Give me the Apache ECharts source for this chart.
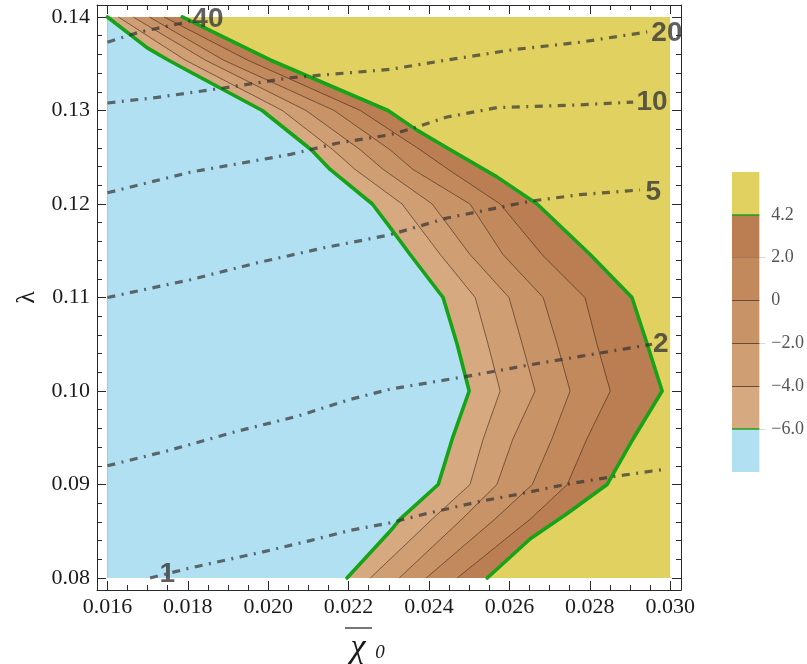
<!DOCTYPE html>
<html>
<head>
<meta charset="utf-8">
<script src="https://cdn.jsdelivr.net/npm/echarts@6/dist/echarts.min.js"></script>
<style>
  html, body { margin: 0; padding: 0; background: #fff; }
  #chart { width: 807px; height: 664px; }
</style>
</head>
<body>
<div id="chart"></div>
<script>
// axis ticks
const xTicks = [0.016, 0.018, 0.020, 0.022, 0.024, 0.026, 0.028, 0.030]
const xTickLabels = ['0.016', '0.018', '0.020', '0.022', '0.024', '0.026', '0.028', '0.030']
const yTicks = [0.08, 0.09, 0.10, 0.11, 0.12, 0.13, 0.14]
const yTickLabels = ['0.08', '0.09', '0.10', '0.11', '0.12', '0.13', '0.14']
const xRange = [0.016, 0.030]
const yRange = [0.08, 0.14]

// colour bar: levels and band colours (bottom to top)
const levelNames = ['−6.0', '−4.0', '−2.0', '0', '2.0', '4.2']
const bandColors = ['#b1e0f3', '#d6a981', '#cf9e73', '#c89367', '#c2895d', '#bb7d52', '#e0d160']

// filled contour boundaries, traced top to bottom
const contourM6 = [[0.01600, 0.1400], [0.01699, 0.1367], [0.01751, 0.1354], [0.01798, 0.1343], [0.01985, 0.1300], [0.02107, 0.1258], [0.02154, 0.1237], [0.02259, 0.1200], [0.02298, 0.1178], [0.02353, 0.1146], [0.02435, 0.1100], [0.02470, 0.1050], [0.02500, 0.1000], [0.02458, 0.0949], [0.02423, 0.0900], [0.02328, 0.0863], [0.02303, 0.0850], [0.02271, 0.0835], [0.02196, 0.0800]]
const contourM4 = [[0.01627, 0.1400], [0.01793, 0.1354], [0.02035, 0.1300], [0.02161, 0.1258], [0.02216, 0.1237], [0.02333, 0.1200], [0.02428, 0.1146], [0.02515, 0.1100], [0.02547, 0.1050], [0.02577, 0.1000], [0.02535, 0.0949], [0.02502, 0.0900], [0.02408, 0.0863], [0.02254, 0.0800]]
const contourM2 = [[0.01664, 0.1400], [0.01843, 0.1354], [0.02094, 0.1300], [0.02229, 0.1258], [0.02286, 0.1237], [0.02408, 0.1200], [0.02502, 0.1146], [0.02599, 0.1100], [0.02632, 0.1050], [0.02664, 0.1000], [0.02609, 0.0949], [0.02569, 0.0900], [0.02482, 0.0863], [0.02326, 0.0800]]
const contour0 = [[0.01704, 0.1400], [0.01888, 0.1354], [0.02164, 0.1300], [0.02303, 0.1258], [0.02360, 0.1237], [0.02502, 0.1200], [0.02584, 0.1146], [0.02684, 0.1100], [0.02719, 0.1050], [0.02751, 0.1000], [0.02706, 0.0949], [0.02657, 0.0900], [0.02564, 0.0863], [0.02393, 0.0800]]
const contour2 = [[0.01741, 0.1400], [0.01948, 0.1354], [0.02229, 0.1300], [0.02378, 0.1258], [0.02448, 0.1237], [0.02577, 0.1200], [0.02681, 0.1146], [0.02788, 0.1100], [0.02818, 0.1050], [0.02851, 0.1000], [0.02793, 0.0949], [0.02744, 0.0900], [0.02652, 0.0863], [0.02470, 0.0800]]
const contour42 = [[0.01786, 0.1400], [0.02005, 0.1354], [0.02298, 0.1300], [0.02370, 0.1279], [0.02453, 0.1258], [0.02569, 0.1229], [0.02669, 0.1200], [0.02801, 0.1146], [0.02905, 0.1100], [0.02943, 0.1050], [0.02980, 0.1000], [0.02908, 0.0949], [0.02843, 0.0900], [0.02744, 0.0869], [0.02652, 0.0842], [0.02545, 0.0800]]

// dash-dot overlay contours
const level1 = [[0.01706, 0.0800], [0.01798, 0.0810], [0.01987, 0.0828], [0.02104, 0.0840], [0.02204, 0.0851], [0.02303, 0.0859], [0.02395, 0.0869], [0.02527, 0.0882], [0.02627, 0.0890], [0.02739, 0.0900], [0.02851, 0.0908], [0.02982, 0.0916]]
const level2 = [[0.01600, 0.0920], [0.01749, 0.0936], [0.01923, 0.0957], [0.02072, 0.0973], [0.02204, 0.0991], [0.02303, 0.1002], [0.02485, 0.1015], [0.02652, 0.1028], [0.02776, 0.1037], [0.02955, 0.1050]]
const level5 = [[0.01600, 0.1100], [0.01806, 0.1119], [0.01972, 0.1137], [0.02137, 0.1153], [0.02303, 0.1167], [0.02445, 0.1185], [0.02652, 0.1203], [0.02776, 0.1210], [0.02925, 0.1215]]
const level10 = [[0.01600, 0.1212], [0.01806, 0.1234], [0.02055, 0.1253], [0.02171, 0.1265], [0.02303, 0.1274], [0.02360, 0.1281], [0.02445, 0.1293], [0.02569, 0.1303], [0.02776, 0.1306], [0.02908, 0.1309]]
const level20 = [[0.01600, 0.1308], [0.01724, 0.1314], [0.01888, 0.1324], [0.02055, 0.1335], [0.02303, 0.1344], [0.02445, 0.1354], [0.02609, 0.1365], [0.02776, 0.1373], [0.02943, 0.1384]]
const level40 = [[0.01600, 0.1373], [0.01681, 0.1384], [0.01781, 0.1393], [0.01818, 0.1397]]
const contourLabels = [[0.01850, 0.1398, '40'], [0.02992, 0.1383, '20'], [0.02955, 0.1309, '10'], [0.02958, 0.1212, '5'], [0.02977, 0.1050, '2'], [0.01749, 0.0804, '1']]

const contours = [contourM6, contourM4, contourM2, contour0, contour2, contour42]
const levels = [level1, level2, level5, level10, level20, level40]

// regions painted back to front: whole box, then "left of" each contour
const regions = [[[xRange[0], yRange[1]], [xRange[1], yRange[1]], [xRange[1], yRange[0]], [xRange[0], yRange[0]]]]
const regionColors = [bandColors[6]]
for (let i = contours.length - 1; i >= 0; i--) {
  regions.push(contours[i].concat([[xRange[0], yRange[0]], [xRange[0], yRange[1]]]))
  regionColors.push(bandColors[i])
}

const xMinor = []
for (let k = 0; k <= 28; k++) xMinor.push(+(0.016 + k * 0.0005).toFixed(5))
const yMinor = []
for (let k = 0; k <= 30; k++) yMinor.push(+(0.08 + k * 0.002).toFixed(4))

const X_MIN = 0.01574, X_MAX = 0.03027
const Y_MIN = 0.07872, Y_MAX = 0.14128
const frame = { color: '#2a2a2a', width: 1 }
const tickStyle = { color: '#2a2a2a', width: 1 }
const serif = 'Liberation Serif'

function pick(ticks, labels) {
  return (v) => {
    const i = ticks.findIndex(t => Math.abs(t - v) < 1e-7)
    return i < 0 ? '' : labels[i]
  }
}

function frameAxis(pos, min, max, major, extra) {
  return Object.assign({
    type: 'value', min, max, position: pos,
    axisLine: { show: true, onZero: false, lineStyle: frame },
    axisTick: { show: true, inside: true, length: 9, customValues: major, lineStyle: tickStyle },
    axisLabel: { show: false },
    splitLine: { show: false }
  }, extra)
}

function minorAxis(grid, pos, min, max, minor) {
  return {
    gridIndex: grid, type: 'value', min, max, position: pos,
    axisLine: { show: false },
    axisTick: { show: true, inside: true, length: 5, customValues: minor, lineStyle: tickStyle },
    axisLabel: { show: false },
    splitLine: { show: false }
  }
}

const chart = echarts.init(document.getElementById('chart'))

const series = []
series.push({
  type: 'custom',
  silent: true,
  z: 1,
  clip: false,
  data: regions.map((r, i) => [i]),
  renderItem: (params, api) => {
    const idx = api.value(0)
    return {
      type: 'polygon',
      shape: { points: regions[idx].map(p => api.coord(p)) },
      style: { fill: regionColors[idx], stroke: null }
    }
  }
})

contours.forEach((c, i) => {
  const edge = i === 0 || i === contours.length - 1
  series.push({
    type: 'line',
    data: c,
    symbol: 'none',
    silent: true,
    z: edge ? 4 : 3,
    lineStyle: edge
      ? { color: '#17a317', width: 3.6, cap: 'round', join: 'round' }
      : { color: 'rgba(60,38,22,0.75)', width: 0.8 }
  })
})

levels.forEach(l => {
  series.push({
    type: 'line',
    data: l,
    symbol: 'none',
    silent: true,
    z: 5,
    lineStyle: { color: 'rgba(50,50,50,0.7)', width: 3.2, type: [8, 6.5, 2, 6.5], cap: 'butt' }
  })
})

series.push({
  type: 'scatter',
  data: contourLabels,
  symbolSize: 1,
  silent: true,
  z: 6,
  clip: false,
  itemStyle: { color: 'transparent' },
  label: {
    show: true,
    position: 'inside',
    formatter: p => p.value[2],
    fontFamily: 'Liberation Sans',
    fontWeight: 'bold',
    fontSize: 28,
    color: '#383838'
  }
})

// colour bar, stacked unit bands
const cbLines = [
  { yAxis: 1, lineStyle: { color: '#1aa31a', width: 1.5, type: 'solid' } },
  { yAxis: 2, lineStyle: { color: '#6a4a33', width: 1, type: 'solid' } },
  { yAxis: 3, lineStyle: { color: '#6a4a33', width: 1, type: 'solid' } },
  { yAxis: 4, lineStyle: { color: '#6a4a33', width: 1, type: 'solid' } },
  { yAxis: 5, lineStyle: { color: 'rgba(150,100,70,0.6)', width: 1, type: 'solid' } },
  { yAxis: 6, lineStyle: { color: '#1aa31a', width: 1.5, type: 'solid' } }
]
bandColors.forEach((c, i) => {
  series.push({
    type: 'bar',
    xAxisIndex: 2,
    yAxisIndex: 2,
    stack: 'cb',
    data: [1],
    barWidth: '100%',
    silent: true,
    itemStyle: { color: c },
    markLine: i === bandColors.length - 1 ? {
      silent: true, symbol: ['none', 'none'], label: { show: false }, data: cbLines
    } : undefined
  })
})

chart.setOption({
  animation: false,
  backgroundColor: '#fff',
  textStyle: { fontFamily: serif },
  grid: [
    { left: 97, top: 5, width: 584, height: 585 },
    { left: 732, top: 172, width: 28, height: 300 },
    { left: 97, top: 5, width: 584, height: 585 }
  ],
  xAxis: [
    frameAxis('bottom', X_MIN, X_MAX, xTicks, {
      gridIndex: 0,
      axisLabel: {
        show: true, customValues: xTicks, formatter: pick(xTicks, xTickLabels),
        fontFamily: serif, fontSize: 22, color: '#1a1a1a', margin: 6
      }
    }),
    frameAxis('top', X_MIN, X_MAX, xTicks, { gridIndex: 0 }),
    { gridIndex: 1, type: 'category', data: ['c'], show: false },
    minorAxis(2, 'bottom', X_MIN, X_MAX, xMinor),
    minorAxis(2, 'top', X_MIN, X_MAX, xMinor)
  ],
  yAxis: [
    frameAxis('left', Y_MIN, Y_MAX, yTicks, {
      gridIndex: 0,
      name: 'λ', nameLocation: 'middle', nameGap: 56, nameRotate: 90,
      nameTextStyle: { fontFamily: serif, fontSize: 26, color: '#1a1a1a' },
      axisLabel: {
        show: true, customValues: yTicks, formatter: pick(yTicks, yTickLabels),
        fontFamily: serif, fontSize: 22, color: '#1a1a1a', margin: 7
      }
    }),
    frameAxis('right', Y_MIN, Y_MAX, yTicks, { gridIndex: 0 }),
    {
      gridIndex: 1, type: 'value', min: 0, max: 7, position: 'right',
      axisLine: { show: false },
      axisTick: { show: true, length: 6, customValues: [1, 3, 5], lineStyle: { color: '#d9d9d9' } },
      axisLabel: {
        show: true, customValues: [1, 2, 3, 4, 5, 6],
        formatter: v => levelNames[Math.round(v) - 1],
        fontFamily: serif, fontSize: 18, color: '#555', margin: 12
      },
      splitLine: { show: false }
    },
    minorAxis(2, 'left', Y_MIN, Y_MAX, yMinor),
    minorAxis(2, 'right', Y_MIN, Y_MAX, yMinor)
  ],
  graphic: [
    {
      type: 'text', x: 358, y: 648,
      style: { text: 'χ', font: 'italic 34px "Liberation Serif"', fill: '#1a1a1a', align: 'center', verticalAlign: 'middle' }
    },
    {
      type: 'line', shape: { x1: 345, y1: 628, x2: 372, y2: 628 },
      style: { stroke: '#1a1a1a', lineWidth: 1.2 }
    },
    {
      type: 'text', x: 380, y: 653,
      style: { text: '0', font: 'italic 19px "Liberation Serif"', fill: '#1a1a1a', align: 'center', verticalAlign: 'middle' }
    }
  ],
  series
})
</script>
</body>
</html>
